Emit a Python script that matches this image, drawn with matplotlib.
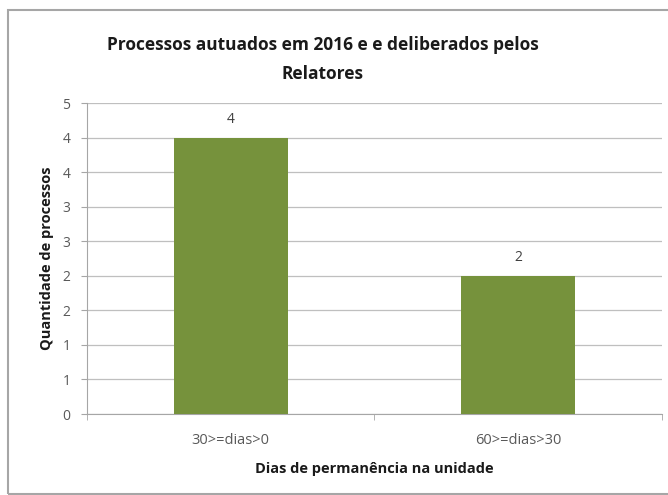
import matplotlib
matplotlib.use("Agg")
import matplotlib.pyplot as plt
from matplotlib.ticker import FuncFormatter, MultipleLocator
from matplotlib.patches import Rectangle

# dados do gráfico
categorias = ["30>=dias>0", "60>=dias>30"]
quantidades = [4, 2]
titulo = "Processos autuados em 2016 e e deliberados pelos\nRelatores"

plt.rcParams['font.family'] = ['Open Sans', 'DejaVu Sans']

fig = plt.figure(figsize=(6.68, 4.95), dpi=100)
ax = fig.add_axes([0.1302, 0.1636, 0.8608, 0.6283])

# moldura do gráfico (estilo Excel)
fig.patches.append(Rectangle((8 / 668, 1 / 495), 1.0, 484 / 495, transform=fig.transFigure,
                             fill=False, edgecolor="#a6a6a6", linewidth=1.5))

x = list(range(len(categorias)))
barras = ax.bar(x, quantidades, width=0.395, color="#76923c", zorder=3)
for b, v in zip(barras, quantidades):
    ax.text(b.get_x() + b.get_width() / 2, v + 0.15, str(v), ha="center", va="bottom",
            fontsize=10, color="#404040")

ax.set_xlim(-0.5, len(categorias) - 0.5)
ax.set_ylim(0, 4.5)
ax.yaxis.set_major_locator(MultipleLocator(0.5))
# Excel arredonda os rótulos para inteiros
ax.yaxis.set_major_formatter(FuncFormatter(lambda v, p: str(int(v + 0.5))))
ax.grid(axis="y", color="#bfbfbf", linewidth=0.9, zorder=0)

ax.set_xticks(x)
ax.set_xticklabels(categorias)
ax.set_xticks([-0.5, 0.5, 1.5], minor=True)
ax.tick_params(axis="x", which="major", length=0, pad=14, labelsize=10.5, labelcolor="#595959")
ax.tick_params(axis="x", which="minor", length=4, color="#a6a6a6", direction="out")
ax.tick_params(axis="y", length=4, color="#a6a6a6", labelsize=10, labelcolor="#595959", pad=8)

for lado in ["top", "right"]:
    ax.spines[lado].set_visible(False)
ax.spines["left"].set_color("#a6a6a6")
ax.spines["bottom"].set_color("#a6a6a6")

fig.text(0.4835, 0.879, titulo, ha="center", va="center", fontsize=12.5,
         fontweight="bold", color="#1a1a1a", linespacing=1.8)
ax.set_ylabel("Quantidade de processos", fontsize=10.5, fontweight="bold", color="#1a1a1a", labelpad=6)
ax.set_xlabel("Dias de permanência na unidade", fontsize=10.5, fontweight="bold", color="#1a1a1a", labelpad=10)

fig.savefig("out.png", dpi=100)
